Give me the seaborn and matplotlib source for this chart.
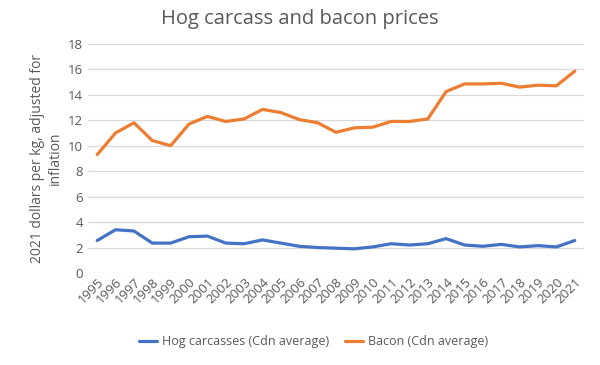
import numpy as np
import pandas as pd
import seaborn as sns
import matplotlib
matplotlib.use("Agg")
import matplotlib.pyplot as plt

years = [str(y) for y in range(1995, 2022)]
hog = [2.55, 3.4, 3.3, 2.35, 2.35, 2.85, 2.9, 2.35, 2.3, 2.6, 2.35, 2.1, 2.0,
       1.95, 1.9, 2.05, 2.3, 2.2, 2.3, 2.7, 2.2, 2.1, 2.25, 2.05, 2.15, 2.05, 2.55]
bacon = [9.3, 11.0, 11.8, 10.4, 10.0, 11.7, 12.3, 11.9, 12.1, 12.85, 12.6, 12.05, 11.8,
         11.05, 11.4, 11.45, 11.9, 11.9, 12.1, 14.25, 14.85, 14.85, 14.9, 14.6, 14.75, 14.7, 15.85]
series_names = ["Hog carcasses (Cdn average)", "Bacon (Cdn average)"]
colors = ["#4472C4", "#ED7D31"]

df = pd.DataFrame({"Year": years * 2,
                   "Price": hog + bacon,
                   "Series": [series_names[0]] * len(years) + [series_names[1]] * len(years)})

sns.set_style("white")
plt.rcParams['font.family'] = ['Open Sans', 'DejaVu Sans']
txt = "#595959"

fig = plt.figure(figsize=(6, 3.65), dpi=100)
ax = fig.add_axes([0.1467, 0.252, 0.8265, 0.628])
sns.lineplot(data=df, x="Year", y="Price", hue="Series", palette=colors,
             linewidth=2.3, ax=ax, sort=False)

ax.set_ylim(0, 18)
ax.set_yticks(range(0, 19, 2))
ax.set_xlim(-0.5, len(years) - 0.5)
ax.grid(axis="y", color="#D9D9D9", linewidth=0.9)
ax.set_axisbelow(True)
for s in ax.spines.values():
    s.set_visible(False)
ax.tick_params(axis="both", length=0, colors=txt, labelsize=9.5)
plt.setp(ax.get_xticklabels(), rotation=45, ha="right", rotation_mode="anchor")
ax.tick_params(axis="x", pad=2)
ax.set_xlabel("")
ax.set_ylabel("2021 dollars per kg, adjusted for\ninflation", color=txt, fontsize=10)
fig.suptitle("Hog carcass and bacon prices", x=0.5, y=0.975, fontsize=14.5, color=txt)

ax.legend(loc="center", bbox_to_anchor=(0.455, -0.3), ncol=2, frameon=False,
          fontsize=9, labelcolor=txt, handlelength=1.4, handletextpad=0.4,
          columnspacing=1.3)

fig.savefig("out.png", dpi=100)
